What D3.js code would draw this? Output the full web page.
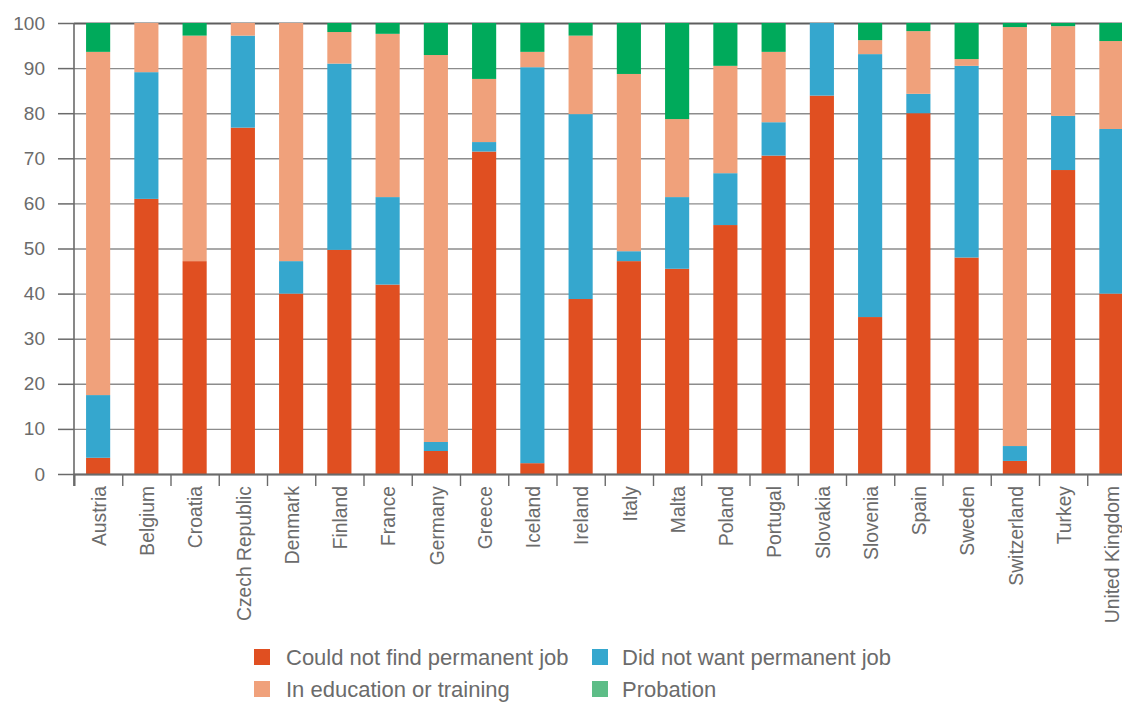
<!DOCTYPE html>
<html>
<head>
<meta charset="utf-8">
<script src="https://cdn.jsdelivr.net/npm/d3@7"></script>
<style>
  html, body { margin: 0; padding: 0; background: #fff; }
  svg { display: block; }
  text { font-family: "Liberation Sans", Arial, sans-serif; fill: #6b6b6b; }
</style>
</head>
<body>
<svg id="chart" width="1122" height="702"></svg>
<script>
const categories = ["Austria","Belgium","Croatia","Czech Republic","Denmark","Finland","France","Germany","Greece","Iceland","Ireland","Italy","Malta","Poland","Portugal","Slovakia","Slovenia","Spain","Sweden","Switzerland","Turkey","United Kingdom"];
const seriesNames = ["Could not find permanent job","Did not want permanent job","In education or training","Probation"];
const couldNotFind = [3.6,61.0,47.2,76.8,40.0,49.7,42.0,5.1,71.5,2.4,38.8,47.2,45.5,55.2,70.6,83.9,34.8,80.0,48.0,2.9,67.4,40.0];
const didNotWant   = [13.9,28.1,0,20.4,7.2,41.3,19.4,2.0,2.1,87.8,41.0,2.2,15.9,11.5,7.4,16.1,58.3,4.3,42.5,3.3,12.0,36.5];
const inEducation  = [76.1,10.9,50.0,2.8,52.8,7.0,36.2,85.8,14.0,3.4,17.4,39.3,17.3,23.8,15.6,0,3.1,13.9,1.5,92.9,19.9,19.5];
const probation    = [6.4,0,2.8,0,0,2.0,2.4,7.1,12.4,6.4,2.8,11.3,21.3,9.5,6.4,0,3.8,1.8,8.0,0.9,0.7,4.0];
const yTicks = [0,10,20,30,40,50,60,70,80,90,100];

const barColors = ["#E04F21","#35A7CE","#F0A17B","#00AA5B"];
const legendColors = ["#E04F21","#35A7CE","#F0A17B","#5DBD87"];

const rows = categories.map((c, i) => ({
  cat: c,
  s0: couldNotFind[i], s1: didNotWant[i], s2: inEducation[i], s3: probation[i]
}));

const svg = d3.select("#chart");
const mLeft = 74, mTop = 23, mBottom = 474;
const step = 48.25;
const mRight = mLeft + step * categories.length;

const x = d3.scaleBand().domain(categories).range([mLeft, mRight]).paddingInner(0.5).paddingOuter(0.25);
const xb = d3.scaleLinear().domain([0, categories.length]).range([mLeft, mRight]);
const y = d3.scaleLinear().domain([0, 100]).range([mBottom, mTop]);

// gridlines
svg.append("g")
  .attr("transform", `translate(${mLeft},0)`)
  .call(d3.axisLeft(y).tickValues(yTicks).tickSize(-(1122 - mLeft)).tickFormat(""))
  .call(g => g.select(".domain").remove())
  .call(g => g.selectAll("line").attr("stroke", d => d === 100 ? "#5e5e5e" : "#8c8c8c")
        .attr("stroke-width", d => d === 100 ? 2.2 : 1.4));

// stacked bars
const stack = d3.stack().keys(["s0","s1","s2","s3"]);
const layers = stack(rows);
svg.append("g").selectAll("g")
  .data(layers).join("g")
  .attr("fill", (d, i) => barColors[i])
  .selectAll("rect")
  .data(d => d).join("rect")
  .attr("x", d => x(d.data.cat))
  .attr("width", x.bandwidth())
  .attr("y", d => y(d[1]))
  .attr("height", d => Math.max(0, y(d[0]) - y(d[1])));

// y axis with outer ticks and labels
svg.append("g")
  .attr("transform", `translate(${mLeft},0)`)
  .call(d3.axisLeft(y).tickValues(yTicks).tickSize(16).tickPadding(13))
  .call(g => g.select(".domain").remove())
  .call(g => g.selectAll("line").attr("stroke", "#6a6a6a").attr("stroke-width", 1.5))
  .call(g => g.selectAll("text").attr("font-size", 19).attr("fill", "#6b6b6b")
        .style("font-family", '"Liberation Sans", Arial, sans-serif'));

// vertical axis line
svg.append("line")
  .attr("x1", mLeft).attr("x2", mLeft)
  .attr("y1", y(100)).attr("y2", mBottom + 12)
  .attr("stroke", "#6a6a6a").attr("stroke-width", 1.6);

// x axis boundary ticks
svg.append("g")
  .attr("transform", `translate(0,${mBottom})`)
  .call(d3.axisBottom(xb).tickValues(d3.range(0, categories.length + 1)).tickSize(12).tickFormat(""))
  .call(g => g.select(".domain").attr("stroke", "#6a6a6a").attr("stroke-width", 1.8))
  .call(g => g.selectAll("line").attr("stroke", "#6a6a6a").attr("stroke-width", 1.4));

// x labels
svg.append("g")
  .attr("transform", `translate(0,${mBottom})`)
  .call(d3.axisBottom(x).tickSize(0).tickPadding(0))
  .call(g => g.select(".domain").remove())
  .call(g => g.selectAll("text")
        .attr("font-size", 19.3)
        .attr("fill", "#6b6b6b")
        .style("font-family", '"Liberation Sans", Arial, sans-serif')
        .attr("text-anchor", "end")
        .attr("dy", "0.35em")
        .attr("transform", "translate(1,12) rotate(-90)")
        .attr("y", 0).attr("x", 0));

// legend
const legendPos = [[254, 649], [592, 649], [254, 681], [592, 681]];
const lg = svg.append("g");
seriesNames.forEach((name, i) => {
  const [lx, ly] = legendPos[i];
  lg.append("rect").attr("x", lx).attr("y", ly).attr("width", 16).attr("height", 16).attr("fill", legendColors[i]);
  lg.append("text").attr("x", lx + 32 + (i % 2 ? -2 : 0)).attr("y", ly + 16)
    .attr("font-size", 22).attr("fill", "#6b6b6b").text(name);
});
</script>
</body>
</html>
